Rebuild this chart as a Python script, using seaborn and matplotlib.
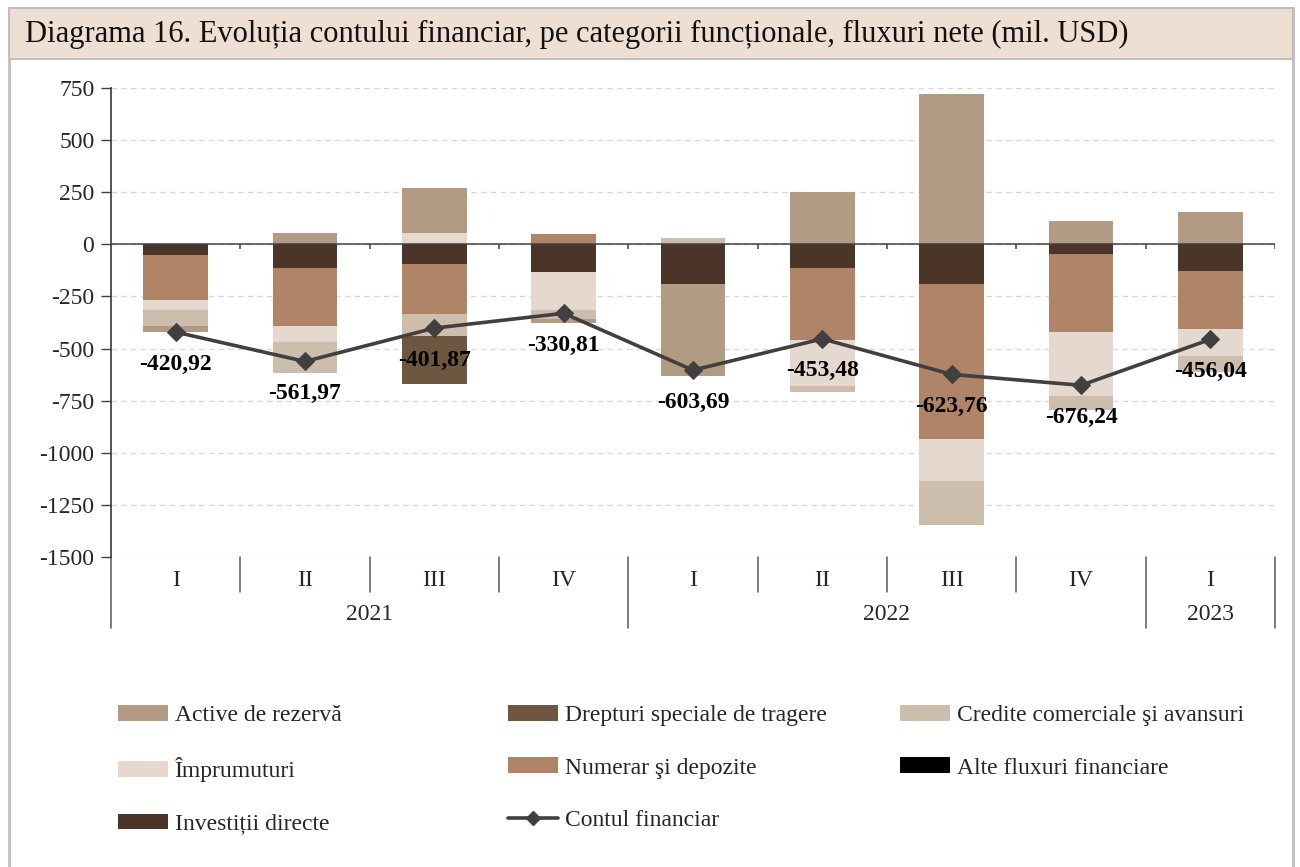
import numpy as np
import matplotlib.pyplot as plt
import matplotlib.transforms as mtransforms
from matplotlib.patches import Rectangle, Patch
from matplotlib.lines import Line2D
import seaborn as sns

# quarters and years
quarters = ["I", "II", "III", "IV", "I", "II", "III", "IV", "I"]
years = ["2021", "2022", "2023"]
year_spans = [(0, 3), (4, 7), (8, 8)]

# net flows per functional category (mil. USD)
investitii = [-51, -112, -96, -133, -189, -112, -189, -46, -128]
alte = [0, 0, 0, 0, 0, 0, 0, 0, 0]
numerar = [-216, -280, -240, 48, 0, -345, -744, -374, -276]
imprumuturi = [-48, -77, 53, -182, 0, -225, -204, -307, -131]
credite = [-77, -147, -104, -42, 29, -26, -208, -67, -78]
dst = [0, 0, -232, 0, 0, 0, 0, 0, 0]
active = [-30, 53, 216, -22, -444, 252, 719, 113, 153]
contul = [-420.92, -561.97, -401.87, -330.81, -603.69, -453.48, -623.76, -676.24, -456.04]

# stacking order (closest to zero first)
series = [
    ("Investiții directe", investitii, "#4B3528"),
    ("Alte fluxuri financiare", alte, "#000000"),
    ("Numerar şi depozite", numerar, "#B08467"),
    ("Împrumuturi", imprumuturi, "#E5D9CF"),
    ("Credite comerciale şi avansuri", credite, "#CDBDAC"),
    ("Drepturi speciale de tragere", dst, "#6E5641"),
    ("Active de rezervă", active, "#B39B83"),
]

sns.set_theme(style="white")
plt.rcParams['font.family'] = ['Liberation Serif', 'DejaVu Serif']
plt.rcParams['font.size'] = 17

fig = plt.figure(figsize=(13, 8.67), dpi=100)
ax = fig.add_axes([111 / 1300, 1 - 557 / 867, 1164 / 1300, 469 / 867])

# frame + title banner
fig.patches.append(Rectangle((9 / 1300, -0.1), 1284 / 1300, 1.1 - 8 / 867,
                             transform=fig.transFigure, facecolor="none",
                             edgecolor="#BFBFBF", lw=2, zorder=0))
fig.patches.append(Rectangle((9 / 1300, 1 - 59 / 867), 1284 / 1300, 51 / 867,
                             transform=fig.transFigure, facecolor="#EEDFD2",
                             edgecolor="#BFBFBF", lw=1.5, zorder=1))
fig.text(25 / 1300, 1 - 34 / 867,
         "Diagrama 16. Evoluția contului financiar, pe categorii funcționale, fluxuri nete (mil. USD)",
         fontsize=22, va="center", ha="left", color="#111111")

x = np.arange(len(quarters))
pos_bottom = np.zeros(len(x))
neg_bottom = np.zeros(len(x))
handles = {}
for name, vals, color in series:
    v = np.array(vals, dtype=float)
    bottom = np.where(v >= 0, pos_bottom, neg_bottom)
    ax.bar(x, v, bottom=bottom, width=0.5, color=color, edgecolor="none", zorder=2)
    pos_bottom += np.where(v > 0, v, 0)
    neg_bottom += np.where(v < 0, v, 0)
    handles[name] = Patch(facecolor=color, edgecolor="none")

sns.lineplot(x=x, y=contul, ax=ax, color="#404040", lw=2.6, marker="D",
             markersize=9, markeredgecolor="#404040", zorder=4, legend=False)
for xi, v in zip(x, contul):
    ax.annotate(f"{v:.2f}".replace(".", ","), (xi, v), xytext=(0, -23),
                textcoords="offset points", ha="center", va="center",
                fontsize=17, fontweight="bold", color="black", zorder=5)

ax.set_xlim(-0.5, 8.5)
ax.set_ylim(-1500, 750)
ax.set_yticks(np.arange(-1500, 751, 250))
ax.set_yticklabels([str(t) for t in np.arange(-1500, 751, 250)])
ax.yaxis.grid(True, ls=(0, (4, 3)), color="#D9D9D9", lw=1)
ax.set_axisbelow(True)
for s in ["top", "right", "bottom"]:
    ax.spines[s].set_visible(False)
ax.spines["left"].set_color("#404040")
ax.spines["left"].set_bounds(-1500, 750)
ax.tick_params(axis="y", direction="out", length=7, width=1, color="#404040",
               left=True, pad=5, labelsize=17)
ax.axhline(0, color="#404040", lw=1.1, zorder=3)
ax.vlines(np.arange(0.5, 9.0, 1.0), -24, 0, color="#404040", lw=1.1, zorder=3)

# multilevel category axis
ax.set_xticks(x)
ax.set_xticklabels(quarters, fontsize=17)
ax.tick_params(axis="x", length=0, pad=9, bottom=False)
trans = mtransforms.blended_transform_factory(ax.transData, ax.transAxes)
for b in np.arange(-0.5, 9.0, 1.0):
    long_line = b in (-0.5, 3.5, 7.5, 8.5)
    y_end = -71 / 469 if long_line else -35 / 469
    ax.plot([b, b], [0, y_end], transform=trans, color="#595959", lw=1.1,
            clip_on=False)
for label, (a, b) in zip(years, year_spans):
    ax.text((a + b) / 2, -58 / 469, label, transform=trans, ha="center",
            va="center", fontsize=17)

# legend: three columns placed like the original
line_handle = Line2D([], [], color="#404040", lw=2.6, marker="D", markersize=7)
legend_cols = [
    (118, ["Active de rezervă", "Împrumuturi", "Investiții directe"]),
    (508, ["Drepturi speciale de tragere", "Numerar şi depozite", "Contul financiar"]),
    (900, ["Credite comerciale şi avansuri", "Alte fluxuri financiare"]),
]
for xpos, names in legend_cols:
    hs = [line_handle if n == "Contul financiar" else handles[n] for n in names]
    fig.legend(hs, names, loc="upper left",
               bbox_to_anchor=(xpos / 1300, 1 - 705 / 867), ncol=1, frameon=False,
               fontsize=17, handlelength=2.1, handleheight=0.65, handletextpad=0.3,
               labelspacing=1.32, borderaxespad=0, borderpad=0)

fig.savefig("out.png", dpi=100, facecolor="white")
